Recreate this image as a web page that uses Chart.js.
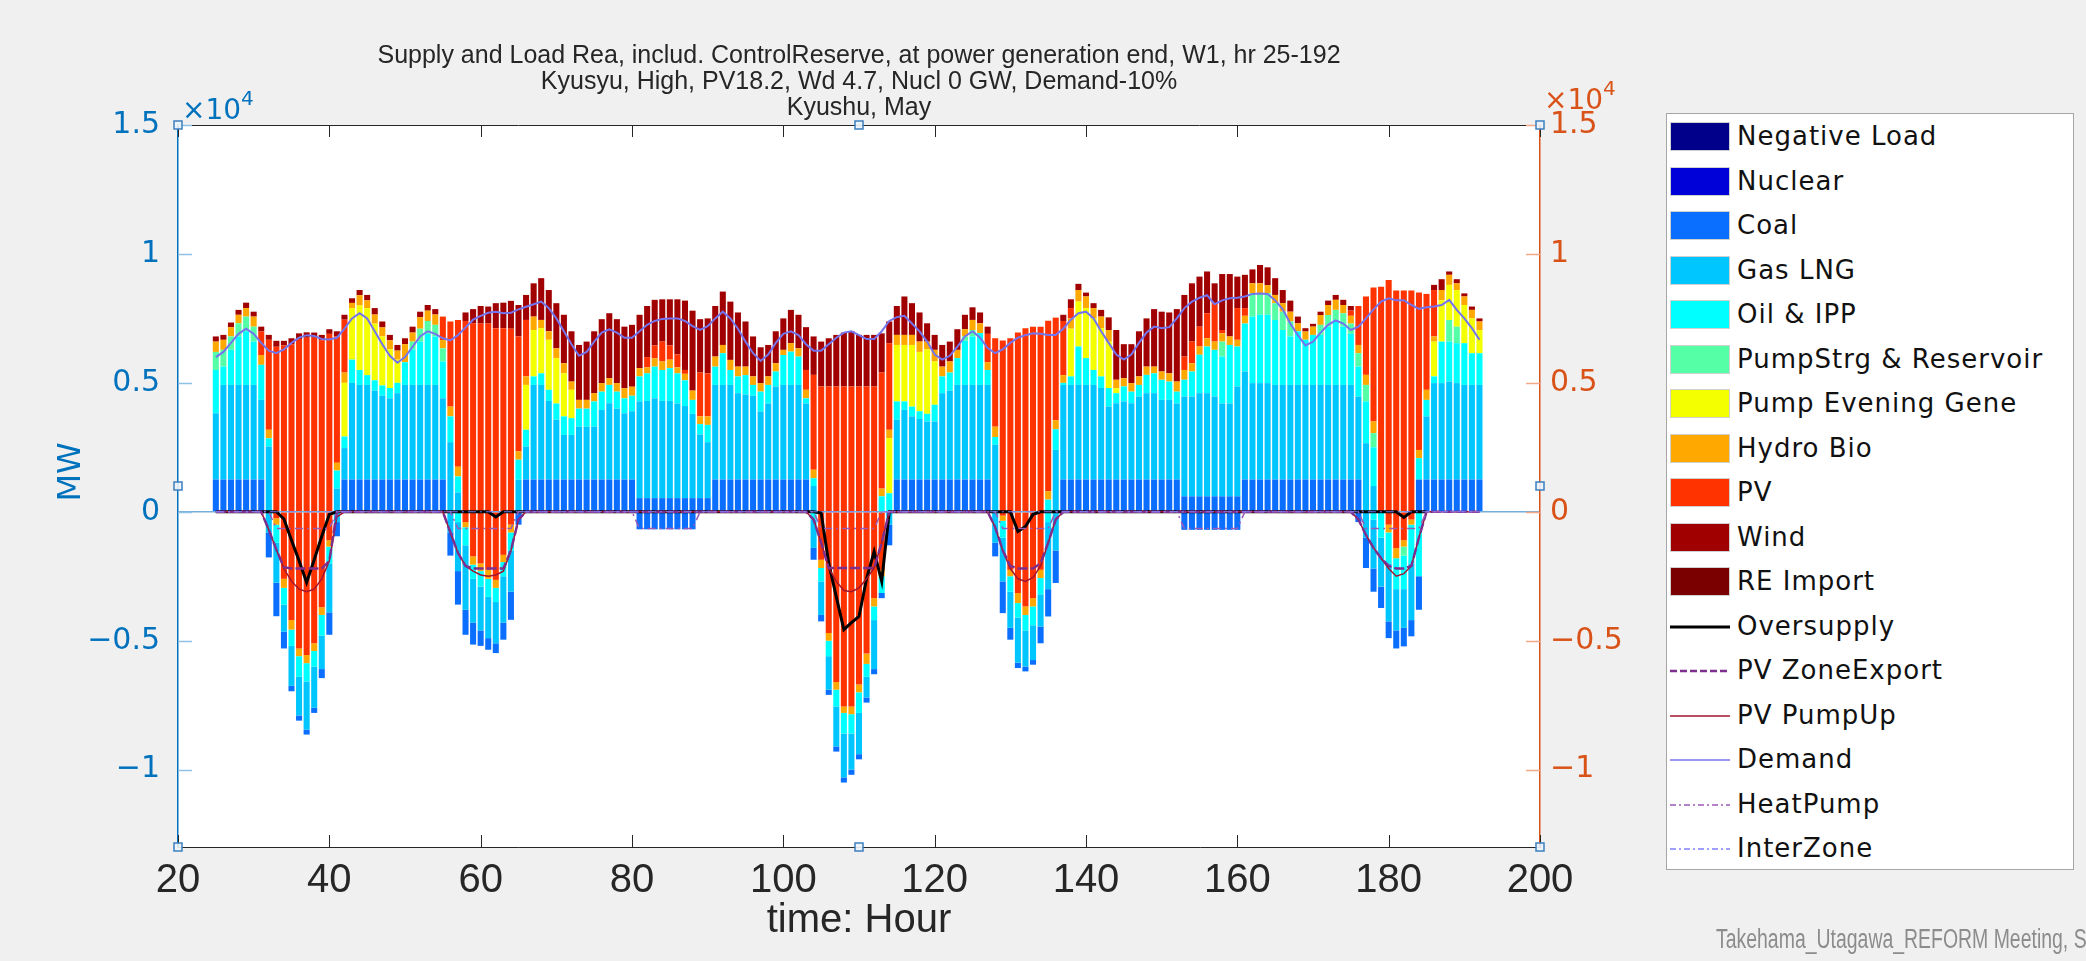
<!DOCTYPE html>
<html>
<head>
<meta charset="utf-8">
<script src="https://cdn.jsdelivr.net/npm/chart.js@4.4.1/dist/chart.umd.min.js"></script>
<style>
  html, body { margin: 0; padding: 0; background: #f0f0f0; }
  #wrap { position: relative; width: 2086px; height: 961px; overflow: hidden; }
  #chart { position: absolute; left: 0; top: 0; }
  #title { position: absolute; left: 309px; width: 1100px; top: 41px; text-align: center;
           font-family: 'Liberation Sans', Arial, sans-serif; font-size: 25px; line-height: 26px; color: #262626; }
  .expo { position: absolute; font-family: 'DejaVu Sans', sans-serif; font-size: 28px; }
  .expo sup { font-size: 20px; position: relative; top: -4px; }
  #ylab { position: absolute; left: 19px; top: 452px; width: 100px; height: 40px; line-height: 40px; text-align: center;
          transform: rotate(-90deg); font-family: 'DejaVu Sans', sans-serif; font-size: 32px; color: #0072BD; }
  #legend { position: absolute; left: 1666px; top: 113px; width: 408px; height: 757px; background: #fff;
            border: 1px solid #a6a6a6; box-sizing: border-box; }
  .row { position: absolute; left: 3px; height: 30px; }
  .sw { position: absolute; left: 0; top: 0; width: 60px; height: 29px; box-sizing: border-box; border: 1px solid #d0d0d0; }
  .txt { position: absolute; left: 67px; top: -3px; white-space: nowrap; font-family: 'DejaVu Sans', sans-serif;
         font-size: 26px; letter-spacing: 1px; color: #111; line-height: 34px; }
  #mark { position: absolute; left: 1716px; top: 924px; white-space: nowrap; color: #8c8c8c;
          font-family: 'Liberation Sans', Arial, sans-serif; font-size: 27px;
          transform: scaleX(0.72); transform-origin: 0 0; }
</style>
</head>
<body>
<div id="wrap">
  <canvas id="chart" width="2086" height="961"></canvas>
  <div id="title">Supply and Load Rea, includ. ControlReserve, at power generation end, W1, hr 25-192<br>Kyusyu, High, PV18.2, Wd 4.7, Nucl 0 GW, Demand-10%<br>Kyushu, May</div>
  <div class="expo" style="left:182px; top:90px; color:#0072BD;">×10<sup>4</sup></div>
  <div class="expo" style="left:1544px; top:80px; color:#D95319;">×10<sup>4</sup></div>
  <div id="ylab">MW</div>
  <div id="legend"></div>
  <div id="mark">Takehama_Utagawa_REFORM Meeting, S</div>
</div>
<script>
const _ = null;

// x categories: simulated hours 25..192
const hours = [];
for (let h = 25; h <= 192; h++) hours.push(h);

const xTicks = [20, 40, 60, 80, 100, 120, 140, 160, 180, 200];
const yTicks = [-10000, -5000, 0, 5000, 10000, 15000];

// upper edge of each supply layer (MW), one row per 24 h: 25-48, 49-72, 73-96, 97-120, 121-144, 145-168, 169-192
const coalTop = [
  1250,1250,1250,1250,1250,1250,1250,_,_,_,_,_,_,_,_,_,_,1250,1250,1250,1250,1250,1250,1250,
  1250,1250,1250,1250,1250,1250,1250,_,_,_,_,_,_,_,_,_,_,1250,1250,1250,1250,1250,1250,1250,
  1250,1250,1250,1250,1250,1250,1250,1250,530,530,530,530,530,530,530,530,530,530,1250,1250,1250,1250,1250,1250,
  1250,1250,1250,1250,1250,1250,1250,_,_,_,_,_,_,_,_,_,_,_,1250,1250,1250,1250,1250,1250,
  1250,1250,1250,1250,1250,1250,1250,_,_,_,_,_,_,_,_,_,1250,1250,1250,1250,1250,1250,1250,1250,
  1250,1250,1250,1250,1250,1250,1250,1250,600,600,600,600,600,600,600,600,1250,1250,1250,1250,1250,1250,1250,1250,
  1250,1250,1250,1250,1250,1250,1250,1250,_,_,_,_,_,_,_,1250,1250,1250,1250,1250,1250,1250,1250,1250
];
const gasTop = [
  3820,4920,4920,4920,4920,4920,4340,2530,_,_,_,_,_,_,_,_,900,2470,5000,4920,4920,4700,4500,4400,
  4600,4920,4920,4920,4920,4920,4400,2700,750,_,_,_,_,_,_,_,1240,2530,4920,4920,4300,3570,2980,2980,
  3300,3300,3300,3950,4210,4000,3820,3900,4280,4300,4400,4300,4300,4200,4100,3800,3000,2700,4920,4920,4920,4600,4550,4500,
  3890,4200,4860,4920,4920,4920,4200,1000,_,_,_,_,_,_,_,_,_,_,3570,3950,3700,3600,3500,3500,
  4600,4700,4920,4920,4920,4920,4920,2600,_,_,_,_,_,_,_,2400,4920,4920,4920,4920,4920,4800,4080,4210,
  4280,4210,4470,4600,4600,4340,4340,4200,4470,4470,4600,4600,4470,4200,4200,4860,5440,4990,4990,4990,4920,4920,4920,4920,
  4920,4920,4920,4920,4920,4920,4920,4470,2660,1000,_,_,_,_,_,_,3700,4990,4990,5050,4990,4920,4920,4920
];
const oilTop = [
  5500,5630,6280,6800,7000,6600,5700,2850,_,_,_,_,_,_,_,_,1600,2920,5900,5500,5300,5100,4900,4800,
  5000,5800,6300,6600,6900,6800,5830,3700,1370,_,_,_,_,_,_,_,2020,3180,5250,5370,4730,4200,3700,3630,
  4000,4000,4280,4660,4920,4660,4400,4500,5250,5370,5630,5500,5570,5370,5100,4340,3400,3370,5630,6150,5500,5250,5300,4920,
  4660,4920,5440,6080,6210,6020,4400,1300,_,_,_,_,_,_,_,_,600,720,4280,4280,4080,3900,3800,4150,
  5250,5400,5960,6630,6800,6930,5500,2900,_,_,_,_,_,_,470,3200,5000,5250,6410,5960,5500,5250,4800,4600,
  4860,4660,4920,5310,5370,5120,5050,4660,5120,5440,6090,6410,6280,6020,6470,6410,7300,7570,7640,7640,7440,7050,6800,7000,
  6670,6860,6860,7180,7440,7180,6900,5630,4280,2500,_,_,_,_,_,2080,4340,5250,6600,6600,6540,6540,6150,6150
];
const pumpStrgTop = [
  6200,6280,6800,7310,7570,7180,_,_,_,_,_,_,_,_,_,_,_,_,_,_,_,_,_,_,
  _,_,6600,7100,7400,7250,6340,_,_,_,_,_,_,_,_,_,_,_,_,_,_,_,_,_,
  _,_,_,_,_,_,_,_,_,_,_,_,_,_,_,_,_,_,_,_,_,_,_,_,
  _,_,_,_,_,_,_,_,_,_,_,_,_,_,_,_,_,_,_,_,_,_,_,_,
  _,_,_,6800,7050,_,_,_,_,_,_,_,_,_,_,_,_,_,_,_,_,_,_,_,
  _,_,_,_,_,_,_,_,_,_,_,_,_,6600,_,_,_,8480,8480,8480,8090,7760,7380,_,
  _,_,7250,7630,7830,7700,7300,6150,4920,3050,_,_,_,_,_,_,_,_,_,7440,7180,_,_,_
];
const pumpEveTop = [
  _,_,_,_,_,_,_,_,_,_,_,_,_,_,_,_,_,5000,7900,8000,7900,7300,6800,6300,
  5900,_,_,_,_,_,_,_,_,_,_,_,_,_,_,_,_,4920,7050,7120,6670,5960,5370,4730,
  _,_,_,_,_,_,_,_,_,_,_,_,_,_,_,_,_,_,_,_,_,_,_,_,
  _,_,_,_,_,_,_,_,_,_,_,_,_,_,_,_,_,2860,6470,6470,6470,6200,6300,5830,
  _,_,_,_,_,_,_,_,_,_,_,_,_,_,_,_,_,7100,8150,7900,7500,7120,6600,4790,
  _,_,_,_,_,_,_,_,_,_,_,_,_,_,_,_,_,_,_,_,_,_,_,_,
  _,_,_,_,_,_,_,_,_,_,_,_,_,_,_,_,_,6600,8200,8800,8600,8020,7500,7050
];
const hydroTop = [
  6600,6670,7160,7640,7900,7570,6080,3180,_,_,_,_,_,_,_,_,1900,5400,8100,8400,8200,7650,7150,6650,
  6250,6500,6950,7550,7800,7650,6660,4080,1750,_,_,_,_,_,_,_,2340,5250,7570,7440,7000,6340,5760,5050,
  4340,4340,4600,4990,5180,4990,4790,4850,5570,5600,5950,5830,5900,5600,5350,4700,3700,3700,6020,6470,5890,5630,5630,5250,
  4990,5250,5760,6280,6540,6340,4730,1630,_,_,_,_,_,_,_,_,900,3180,6860,6860,6860,6600,6600,6280,
  5630,5830,6280,7080,7440,7310,5800,3300,_,_,_,_,_,_,800,3550,5300,7500,8600,8350,7900,7570,7050,5120,
  5180,4990,5250,5630,5630,5440,5370,5050,5500,5760,6410,6730,6600,6920,6800,6670,7600,8860,8860,8790,8410,8090,7760,7310,
  6990,7180,7630,8020,8220,8020,7600,6470,5310,3500,_,_,_,_,_,2400,4730,6800,8600,9190,8860,8350,7830,7380
];
const pvTop = [
  _,_,_,_,_,_,6990,6670,6400,6450,6500,6700,6750,6750,6650,6900,6800,7450,_,_,_,_,_,_,
  _,_,_,_,_,_,7570,7380,7440,7400,7300,7300,7300,7120,7120,7100,6800,7440,_,_,_,_,_,_,
  _,_,_,_,_,_,_,_,_,6000,6450,6600,6450,6100,5500,_,5400,5370,_,_,_,_,_,_,
  _,_,_,_,_,_,5500,5310,4860,4860,4860,4860,4860,4860,4860,4860,5400,6540,_,_,_,_,_,_,
  _,_,_,_,_,_,6900,6730,6640,6730,6950,7120,7180,7180,7410,7530,7400,7900,_,_,_,_,_,_,
  _,_,_,_,_,_,_,_,6020,6600,7180,7700,8090,7050,_,7900,7900,_,_,_,_,_,_,_,
  _,_,_,_,_,_,7800,7980,8350,8700,8730,8990,8580,8580,8580,8500,8450,8600,_,_,_,_,_,_
];
const windTop = [
  6800,6860,7340,7830,8110,7760,7180,6860,6630,6630,6730,6920,6960,6950,6860,7080,7000,7640,8280,8600,8410,7900,7380,6860,
  6470,6730,7180,7760,8020,7860,_,_,_,7730,7860,7980,7960,8090,8110,8180,8020,8410,8860,9060,8600,8090,7640,7000,
  6470,6600,7000,7470,7700,7470,7180,7250,7640,7980,8220,8240,8240,8240,8190,7800,7470,7500,7980,8540,8150,7730,7380,6800,
  6380,6470,7000,7500,7830,7640,7160,6800,6600,6730,6860,6950,7000,6860,6860,6860,6920,7380,7980,8350,8090,7730,7310,6860,
  6470,6600,7080,7640,7930,7730,7180,_,_,_,_,_,_,_,_,_,7640,8240,8840,8500,8090,7830,7540,7050,
  6500,6500,7000,7500,7860,7760,7730,7860,8410,8860,9120,9320,8860,9220,9220,9120,9190,9400,9570,9480,9060,8600,8190,7570,
  7120,7290,7760,8190,8410,8220,7980,_,_,_,_,_,_,_,_,_,_,8800,9020,9320,9020,8470,7960,7500
];

// lower edge of the layers drawn below zero (MW)
const pvBot = [
  _,_,_,_,_,_,_,_,-250,-2600,-4200,-5300,-5550,-5100,-3700,-1100,_,_,_,_,_,_,_,_,
  _,_,_,_,_,_,_,_,_,-400,-1730,-2000,-2250,-2640,-1670,-500,_,_,_,_,_,_,_,_,
  _,_,_,_,_,_,_,_,_,_,_,_,_,_,_,_,_,_,_,_,_,_,_,_,
  _,_,_,_,_,_,_,_,-1860,-4700,-6600,-7550,-7550,-6700,-5500,-3350,-2250,_,_,_,_,_,_,_,
  _,_,_,_,_,_,_,_,-150,-2250,-3150,-3670,-3350,-2250,_,_,_,_,_,_,_,_,_,_,
  _,_,_,_,_,_,_,_,_,_,_,_,_,_,_,_,_,_,_,_,_,_,_,_,
  _,_,_,_,_,_,_,_,_,_,_,-500,-1410,-1100,-300,_,_,_,_,_,_,_,_,_
];
const hydroBot = [
  _,_,_,_,_,_,_,_,-500,-2950,-4570,-5600,-5870,-5400,-4000,-1350,_,_,_,_,_,_,_,_,
  _,_,_,_,_,_,_,_,_,-600,-2050,-2300,-2600,-2950,-1950,-800,_,_,_,_,_,_,_,_,
  _,_,_,_,_,_,_,_,_,_,_,_,_,_,_,_,_,_,_,_,_,_,_,_,
  _,_,_,_,_,_,_,_,-2180,-5000,-6900,-7800,-7850,-7000,-5900,-3670,-2500,_,_,_,_,_,_,_,
  _,_,_,_,_,_,_,_,-350,-2500,-3540,-4000,-3670,-2570,_,_,_,_,_,_,_,_,_,_,
  _,_,_,_,_,_,_,_,_,_,_,_,_,_,_,_,_,_,_,_,_,_,_,_,
  _,_,_,_,_,_,_,_,_,_,_,-800,-1800,-1350,-500,_,_,_,_,_,_,_,_,_
];
const pumpStrgBot = [
  _,_,_,_,_,_,_,_,_,_,_,_,_,_,_,_,_,_,_,_,_,_,_,_,
  _,_,_,_,_,_,_,_,_,_,_,_,_,_,_,_,_,_,_,_,_,_,_,_,
  _,_,_,_,_,_,_,_,_,_,_,_,_,_,_,_,_,_,_,_,_,_,_,_,
  _,_,_,_,_,_,_,_,_,_,_,_,_,_,_,_,_,_,_,_,_,_,_,_,
  _,_,_,_,_,_,_,_,_,_,_,_,_,_,_,_,_,_,_,_,_,_,_,_,
  _,_,_,_,_,_,_,_,_,_,_,_,_,_,_,_,_,_,_,_,_,_,_,_,
  _,_,_,_,_,_,_,_,_,_,_,_,_,-1700,_,_,_,_,_,_,_,_,_,_
];
const oilBot = [
  _,_,_,_,_,_,_,_,-1200,-3600,-5200,-6400,-6580,-6000,-4800,-2000,_,_,_,_,_,_,_,_,
  _,_,_,_,_,_,_,_,-400,-1300,-2600,-2900,-3300,-3500,-2500,-1500,_,_,_,_,_,_,_,_,
  _,_,_,_,_,_,_,_,_,_,_,_,_,_,_,_,_,_,_,_,_,_,_,_,
  _,_,_,_,_,_,_,-300,-2700,-5600,-7550,-8600,-8600,-7800,-6400,-4200,-3150,_,_,_,_,_,_,_,
  _,_,_,_,_,_,_,_,-1000,-3100,-4100,-4600,-4400,-3200,-400,_,_,_,_,_,_,_,_,_,
  _,_,_,_,_,_,_,_,_,_,_,_,_,_,_,_,_,_,_,_,_,_,_,_,
  _,_,_,_,_,_,_,_,_,-300,-1000,-2000,-3000,-3000,-2000,-2500,_,_,_,_,_,_,_,_
];
const gasBot = [
  _,_,_,_,_,_,_,-800,-2750,-4650,-6750,-7900,-8450,-7600,-6100,-3900,-400,_,_,_,_,_,_,_,
  _,_,_,_,_,_,_,-800,-2300,-3800,-4300,-4600,-4900,-5100,-4300,-3100,_,_,_,_,_,_,_,_,
  _,_,_,_,_,_,_,_,_,_,_,_,_,_,_,_,_,_,_,_,_,_,_,_,
  _,_,_,_,_,_,_,-1400,-4000,-6900,-9100,-10300,-10000,-9400,-7200,-6100,_,-500,_,_,_,_,_,_,
  _,_,_,_,_,_,_,-1200,-2700,-4500,-5850,-6000,-5750,-4450,-3000,-1500,_,_,_,_,_,_,_,_,
  _,_,_,_,_,_,_,_,_,_,_,_,_,_,_,_,_,_,_,_,_,_,_,_,
  _,_,_,_,_,_,_,_,-1000,-2200,-2900,-4250,-4600,-4500,-4200,_,_,_,_,_,_,_,_,_
];
const coalBot = [
  _,_,_,_,_,_,_,-1770,-4050,-5300,-6960,-8100,-8640,-7800,-6450,-4770,-950,_,_,_,_,_,_,_,
  _,_,_,_,_,_,_,-1700,-3600,-4770,-5150,-5200,-5350,-5480,-4960,-4190,-500,_,_,_,_,_,_,_,
  _,_,_,_,_,_,_,_,-680,-680,-680,-680,-680,-680,-680,-680,_,_,_,_,_,_,_,_,
  _,_,_,_,_,_,_,-1860,-4250,-7100,-9300,-10500,-10200,-9600,-7400,-6300,-3350,-1300,_,_,_,_,_,_,
  _,_,_,_,_,_,_,-1730,-3930,-4960,-6060,-6190,-5930,-5100,-4060,-2760,_,_,_,_,_,_,_,_,
  _,_,_,_,_,_,_,_,-700,-700,-700,-700,-700,-700,-700,-700,_,_,_,_,_,_,_,_,
  _,_,_,_,_,_,_,-400,-2180,-3100,-3730,-4900,-5300,-5220,-4830,-3800,_,_,_,_,_,_,_,_
];

// line series (MW)
const oversupply = [
  0,0,0,0,0,0,0,0,0,-280,-1100,-1900,-2740,-1860,-950,-100,0,0,0,0,0,0,0,0,
  0,0,0,0,0,0,0,0,0,0,0,0,0,-200,0,0,0,0,0,0,0,0,0,0,
  0,0,0,0,0,0,0,0,0,0,0,0,0,0,0,0,0,0,0,0,0,0,0,0,
  0,0,0,0,0,0,0,0,-50,-2000,-3300,-4570,-4300,-4060,-2600,-1540,-2700,0,0,0,0,0,0,0,
  0,0,0,0,0,0,0,0,0,0,-760,-570,-100,0,0,0,0,0,0,0,0,0,0,0,
  0,0,0,0,0,0,0,0,0,0,0,0,0,0,0,0,0,0,0,0,0,0,0,0,
  0,0,0,0,0,0,0,0,0,0,0,0,0,-220,0,0,0,_,_,_,_,_,_,_
];
const pvZoneExport = [
  0,0,0,0,0,0,0,-700,-1470,-2150,-2200,-2200,-2200,-2200,-2200,-1900,0,0,0,0,0,0,0,0,
  0,0,0,0,0,0,0,-800,-1600,-2100,-2200,-2200,-2200,-2200,-2200,-1500,-300,0,0,0,0,0,0,0,
  0,0,0,0,0,0,0,0,0,0,0,0,0,0,0,0,0,0,0,0,0,0,0,0,
  0,0,0,0,0,0,0,-300,-1200,-2180,-2180,-2180,-2180,-2180,-2180,-2180,-1200,0,0,0,0,0,0,0,
  0,0,0,0,0,0,0,-600,-1500,-2100,-2200,-2200,-2200,-2000,-1200,-300,0,0,0,0,0,0,0,0,
  0,0,0,0,0,0,0,0,0,0,0,0,0,0,0,0,0,0,0,0,0,0,0,0,
  0,0,0,0,0,0,0,-300,-900,-1400,-1800,-2100,-2200,-2200,-2100,-1000,0,0,0,0,0,0,0,0
];
const pvPumpUp = [
  0,0,0,0,0,0,0,-700,-1470,-2200,-2700,-3000,-3100,-3000,-2600,-1900,-200,0,0,0,0,0,0,0,
  0,0,0,0,0,0,0,-800,-1600,-2100,-2300,-2450,-2500,-2450,-2300,-1500,-300,0,0,0,0,0,0,0,
  0,0,0,0,0,0,0,0,0,0,0,0,0,0,0,0,0,0,0,0,0,0,0,0,
  0,0,0,0,0,0,0,-300,-1200,-2180,-2700,-3050,-3100,-2950,-2600,-2180,-1200,0,0,0,0,0,0,0,
  0,0,0,0,0,0,0,-600,-1500,-2200,-2600,-2700,-2550,-2100,-1200,-300,0,0,0,0,0,0,0,0,
  0,0,0,0,0,0,0,0,0,0,0,0,0,0,0,0,0,0,0,0,0,0,0,0,
  0,0,0,0,0,0,0,-300,-900,-1400,-1800,-2200,-2500,-2400,-2100,-1000,0,0,0,0,0,0,0,0
];
const demand = [
  6000,6200,6550,6900,7100,6900,6550,6250,6150,6300,6550,6750,6850,6820,6700,6680,6750,7100,7500,7700,7500,7000,6500,6050,
  5780,6000,6400,6800,7000,6900,6730,6650,6850,7150,7450,7600,7720,7760,7700,7720,7850,7950,8050,8150,7900,7500,7000,6500,
  6050,6200,6600,6950,7080,6950,6750,6750,7000,7250,7400,7480,7500,7500,7400,7200,7050,7200,7500,7760,7500,7100,6600,6150,
  5850,6100,6550,6900,7000,6850,6500,6250,6250,6500,6750,6950,7000,6850,6700,6700,7000,7400,7550,7600,7300,7000,6600,6100,
  5900,6050,6400,6800,7000,6750,6350,6150,6300,6550,6750,6850,6920,6900,6860,6860,7100,7450,7700,7760,7500,7000,6550,6100,
  5900,6100,6550,6950,7180,7120,7160,7500,7900,8150,8300,8400,8050,8200,8280,8300,8350,8450,8470,8450,8200,7850,7300,6850,
  6450,6600,6950,7250,7420,7300,7050,7180,7500,7850,8150,8280,8200,8200,8020,7870,7930,7960,8020,8220,7830,7500,7120,6670
];
const heatPump = [
  0,0,0,0,0,0,0,0,-650,-650,-650,-650,-650,-650,-650,-650,0,0,0,0,0,0,0,0,
  0,0,0,0,0,0,0,0,-650,-650,-650,-650,-650,-650,-650,-650,0,0,0,0,0,0,0,0,
  0,0,0,0,0,0,0,0,-650,-650,-650,-650,-650,-650,-650,-650,0,0,0,0,0,0,0,0,
  0,0,0,0,0,0,0,0,-650,-650,-650,-650,-650,-650,-650,-650,0,0,0,0,0,0,0,0,
  0,0,0,0,0,0,0,0,-650,-650,-650,-650,-650,-650,-650,0,0,0,0,0,0,0,0,0,
  0,0,0,0,0,0,0,0,-650,-650,-650,-650,-650,-650,-650,-650,0,0,0,0,0,0,0,0,
  0,0,0,0,0,0,0,0,-650,-650,-650,-650,-650,-650,-650,-650,0,0,0,0,0,0,0,0
];
const interZone = [
  0,0,0,0,0,0,0,0,0,0,0,0,0,0,0,0,0,0,0,0,0,0,0,0,
  0,0,0,0,0,0,0,0,0,0,0,0,0,0,0,0,0,0,0,0,0,0,0,0,
  0,0,0,0,0,0,0,0,0,0,0,0,0,0,0,0,0,0,0,0,0,0,0,0,
  0,0,0,0,0,0,0,0,0,0,0,0,0,0,0,0,0,0,0,0,0,0,0,0,
  0,0,0,0,0,0,0,0,0,0,0,0,0,0,0,0,0,0,0,0,0,0,0,0,
  0,0,0,0,0,0,0,0,0,0,0,0,0,0,0,0,0,0,0,0,0,0,0,0,
  0,0,0,0,0,0,0,0,0,0,0,0,0,0,0,0,0,0,0,0,0,0,0,0
];

const colors = {
  'Negative Load': '#00008a', 'Nuclear': '#0000d8', 'Coal': '#0a6eff', 'Gas LNG': '#00c6ff',
  'Oil & IPP': '#00ffff', 'PumpStrg & Reservoir': '#55ffa6', 'Pump Evening Gene': '#f4ff00',
  'Hydro Bio': '#ffa800', 'PV': '#ff3300', 'Wind': '#a00000', 'RE Import': '#7a0000',
  'Oversupply': '#000000', 'PV ZoneExport': '#7e2f8e', 'PV PumpUp': '#a2142f',
  'Demand': '#7474ee', 'HeatPump': '#9b59b6', 'InterZone': '#8080ff'
};

const upper = [
  ['Coal', coalTop], ['Gas LNG', gasTop], ['Oil & IPP', oilTop], ['PumpStrg & Reservoir', pumpStrgTop],
  ['Pump Evening Gene', pumpEveTop], ['Hydro Bio', hydroTop], ['PV', pvTop], ['Wind', windTop]
];
const lower = [
  ['PV', pvBot], ['Hydro Bio', hydroBot], ['PumpStrg & Reservoir', pumpStrgBot],
  ['Oil & IPP', oilBot], ['Gas LNG', gasBot], ['Coal', coalBot]
];

// floating bars: each layer runs from the edge of the layer under it to its own edge
function layered(list) {
  const out = list.map(() => []);
  hours.forEach((h, i) => {
    let base = 0;
    list.forEach((s, k) => {
      const v = s[1][i];
      if (v === null) return;
      out[k].push({ x: h, y: [base, v] });
      base = v;
    });
  });
  return list.map((s, k) => ({
    type: 'bar', label: s[0], data: out[k], backgroundColor: colors[s[0]],
    borderWidth: 0, grouped: false, categoryPercentage: 1, barPercentage: 0.8, order: 10
  }));
}

function line(label, values, width, dash, order) {
  return {
    type: 'line', label: label, data: hours.map((h, i) => ({ x: h, y: values[i] })),
    borderColor: colors[label], borderWidth: width, borderDash: dash, pointRadius: 0,
    fill: false, tension: 0, order: order
  };
}

const datasets = [
  ...layered(upper), ...layered(lower),
  line('Oversupply', oversupply, 3, [], 7),
  line('PV PumpUp', pvPumpUp, 1.5, [], 6),
  line('Demand', demand, 2, [], 5),
  line('PV ZoneExport', pvZoneExport, 2.5, [10, 3], 4),
  line('HeatPump', heatPump, 1.5, [8, 4, 2, 4], 3),
  line('InterZone', interZone, 1, [8, 4, 2, 4], 2)
];

const fmt = v => {
  const s = String(Math.abs(v) / 10000);
  return v < 0 ? '\u2212' + s : s;
};
const axisFont = "'Liberation Sans', Arial, sans-serif";

// plot background, inward ticks, box top and the edit handles
const frame = {
  id: 'frame',
  beforeDraw(chart) {
    const a = chart.chartArea, c = chart.ctx;
    c.save();
    c.fillStyle = '#ffffff';
    c.fillRect(a.left, a.top, a.right - a.left, a.bottom - a.top);
    c.restore();
  },
  afterDraw(chart) {
    const a = chart.chartArea, c = chart.ctx;
    const sx = chart.scales.x, sy = chart.scales.y;
    c.save();
    c.lineWidth = 1;
    c.strokeStyle = '#262626';
    c.beginPath();
    c.moveTo(a.left, a.top + 0.5); c.lineTo(a.right, a.top + 0.5);
    xTicks.forEach(t => {
      const px = Math.round(sx.getPixelForValue(t)) + 0.5;
      c.moveTo(px, a.bottom); c.lineTo(px, a.bottom - 12);
      c.moveTo(px, a.top); c.lineTo(px, a.top + 12);
    });
    c.stroke();
    c.lineWidth = 1.5;
    c.strokeStyle = '#8fc0e6';
    c.beginPath();
    yTicks.forEach(t => {
      const py = Math.round(sy.getPixelForValue(t)) + 0.5;
      c.moveTo(a.left, py); c.lineTo(a.left + 14, py);
    });
    c.stroke();
    c.strokeStyle = '#f2a98a';
    c.beginPath();
    yTicks.forEach(t => {
      const py = Math.round(sy.getPixelForValue(t)) + 0.5;
      c.moveTo(a.right, py); c.lineTo(a.right - 14, py);
    });
    c.stroke();
    const cx = (a.left + a.right) / 2, cy = (a.top + a.bottom) / 2;
    const pts = [[a.left, a.top], [cx, a.top], [a.right, a.top], [a.left, cy], [a.right, cy],
                 [a.left, a.bottom], [cx, a.bottom], [a.right, a.bottom]];
    c.lineWidth = 1.5;
    c.strokeStyle = '#3c7fbf';
    c.fillStyle = 'rgba(235,243,250,0.9)';
    pts.forEach(p => {
      c.fillRect(p[0] - 4, p[1] - 4, 8, 8);
      c.strokeRect(p[0] - 4, p[1] - 4, 8, 8);
    });
    c.restore();
  }
};

new Chart(document.getElementById('chart'), {
  type: 'bar',
  data: { datasets: datasets },
  plugins: [frame],
  options: {
    responsive: false,
    animation: false,
    layout: { padding: { left: 0, right: 426, top: 125, bottom: 0 } },
    plugins: { legend: { display: false }, tooltip: { enabled: false } },
    scales: {
      x: {
        type: 'linear', min: 20, max: 200, offset: false,
        afterBuildTicks: s => { s.ticks = xTicks.map(v => ({ value: v })); },
        afterFit: s => { s.height = 114; },
        grid: { display: false, offset: false, drawTicks: false },
        border: { color: '#262626', width: 1 },
        ticks: { color: '#262626', padding: 10, maxRotation: 0, autoSkip: false,
                 font: { family: axisFont, size: 40 }, callback: v => String(v) },
        title: { display: true, text: 'time: Hour', color: '#262626',
                 font: { family: axisFont, size: 40 }, padding: { bottom: 16 } }
      },
      y: {
        type: 'linear', position: 'left', min: -13000, max: 15000,
        afterBuildTicks: s => { s.ticks = yTicks.map(v => ({ value: v })); },
        afterFit: s => { s.width = 178; },
        grid: { drawTicks: false, lineWidth: 1.5,
                color: ctx => (ctx.tick && ctx.tick.value === 0) ? '#74aedb' : 'rgba(0,0,0,0)' },
        border: { color: '#0072BD', width: 1.5 },
        ticks: { color: '#0072BD', padding: 18, font: { family: "'DejaVu Sans', sans-serif", size: 30 }, callback: fmt }
      },
      y2: {
        type: 'linear', position: 'right', min: -13000, max: 15000,
        afterBuildTicks: s => { s.ticks = yTicks.map(v => ({ value: v })); },
        afterFit: s => { s.width = 120; },
        grid: { display: false, drawTicks: false },
        border: { color: '#D95319', width: 1.5 },
        ticks: { color: '#D95319', padding: 10, font: { family: "'DejaVu Sans', sans-serif", size: 30 }, callback: fmt }
      }
    }
  }
});

// legend box
const legendItems = [
  ['Negative Load', 'box'], ['Nuclear', 'box'], ['Coal', 'box'], ['Gas LNG', 'box'], ['Oil & IPP', 'box'],
  ['PumpStrg & Reservoir', 'box'], ['Pump Evening Gene', 'box'], ['Hydro Bio', 'box'], ['PV', 'box'],
  ['Wind', 'box'], ['RE Import', 'box'],
  ['Oversupply', '', 3], ['PV ZoneExport', '7 3', 2.5], ['PV PumpUp', '', 1.5],
  ['Demand', '', 1.5], ['HeatPump', '6 3 2 3', 1.5], ['InterZone', '6 3 2 3', 1.5]
];
const leg = document.getElementById('legend');
legendItems.forEach((it, i) => {
  const row = document.createElement('div');
  row.className = 'row';
  row.style.top = (8 + i * 44.5) + 'px';
  let mark;
  if (it[1] === 'box') {
    mark = '<div class="sw" style="background:' + colors[it[0]] + '"></div>';
  } else {
    mark = '<svg style="position:absolute;left:0;top:0" width="60" height="29"><line x1="0" y1="15" x2="60" y2="15" stroke="' +
      colors[it[0]] + '" stroke-width="' + it[2] + '" stroke-dasharray="' + it[1] + '"/></svg>';
  }
  row.innerHTML = mark + '<div class="txt">' + it[0].replace('&', '&amp;') + '</div>';
  leg.appendChild(row);
});
</script>
</body>
</html>
